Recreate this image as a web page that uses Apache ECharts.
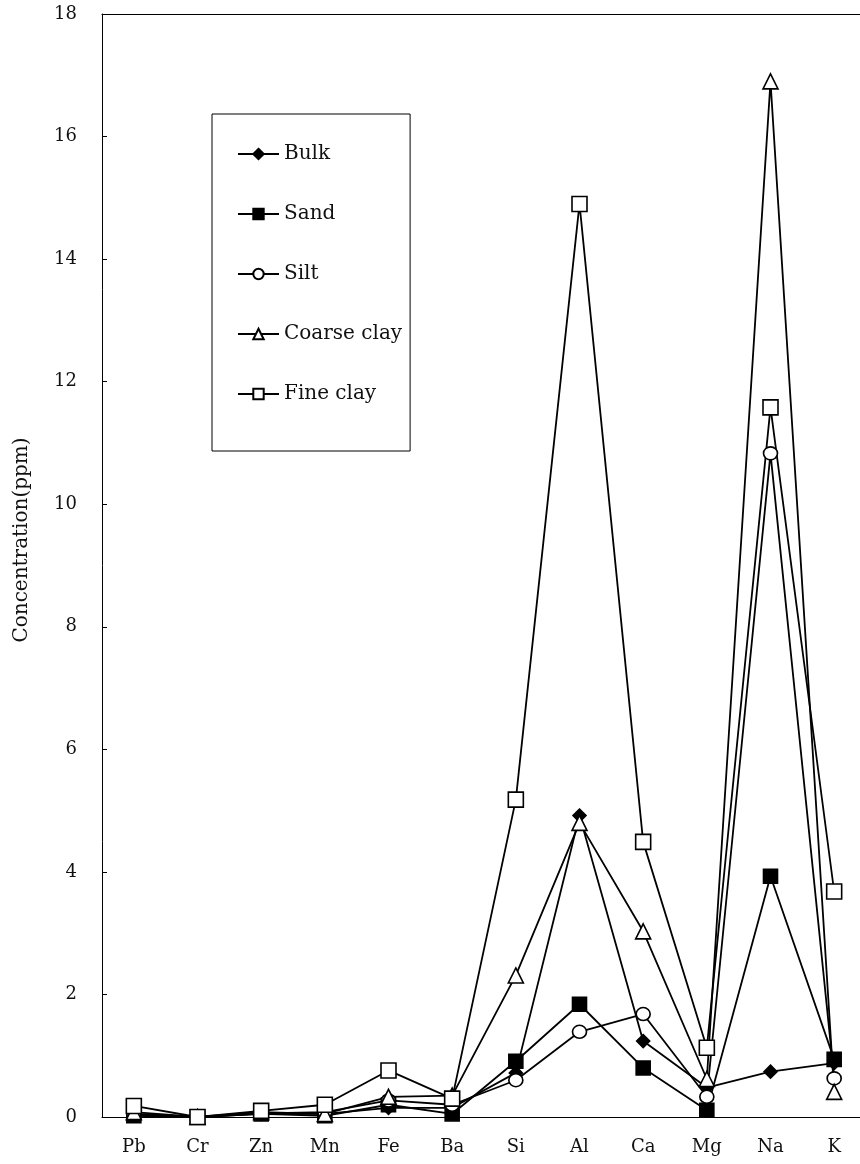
<!DOCTYPE html>
<html>
<head>
<meta charset="utf-8">
<script src="https://cdn.jsdelivr.net/npm/echarts@6/dist/echarts.min.js"></script>
<style>html,body{margin:0;padding:0;background:#fff;overflow:hidden}#c{width:866px;height:1164px}</style>
</head>
<body>
<div id="c"></div>
<script>
const categories = ['Pb','Cr','Zn','Mn','Fe','Ba','Si','Al','Ca','Mg','Na','K'];
const bulk       = [0.03, 0, 0.05, 0.05, 0.15, 0.15, 0.72, 4.92, 1.24, 0.48, 0.74, 0.88];
const sand       = [0.02, 0, 0.05, 0.02, 0.20, 0.05, 0.91, 1.84, 0.80, 0.11, 3.93, 0.94];
const silt       = [0.05, 0, 0.06, 0.08, 0.27, 0.20, 0.60, 1.39, 1.68, 0.33, 10.83, 0.63];
const coarseClay = [0.08, 0, 0.08, 0.05, 0.33, 0.35, 2.31, 4.80, 3.03, 0.62, 16.90, 0.41];
const fineClay   = [0.18, 0, 0.10, 0.20, 0.76, 0.30, 5.18, 14.90, 4.49, 1.13, 11.58, 3.68];
const yTicks = { min: 0, max: 18, interval: 2 };

const FONT = 'DejaVu Serif';
function mk(name, data, symbol, filled, size) {
  return {
    name, type: 'line', data, symbol, symbolSize: size,
    lineStyle: { color: '#000', width: 1.8 },
    itemStyle: { color: filled ? '#000' : '#fff', borderColor: '#000', borderWidth: 1.6 },
    emphasis: { disabled: true },
    animation: false
  };
}
const chart = echarts.init(document.getElementById('c'), null, { renderer: 'canvas' });
chart.setOption({
  backgroundColor: '#fff',
  animation: false,
  grid: { left: 102, top: 14, right: 0, bottom: 47, containLabel: false },
  xAxis: [{
    type: 'category', data: categories, boundaryGap: true,
    axisLine: { lineStyle: { color: '#000', width: 1 } },
    axisTick: { inside: true, length: 5, lineStyle: { color: '#000' } },
    axisLabel: { fontFamily: FONT, fontSize: 18, color: '#111', margin: 21 },
    splitLine: { show: false }
  }, {
    type: 'category', data: categories, position: 'top',
    axisLine: { show: true, lineStyle: { color: '#000', width: 1 } },
    axisTick: { show: false }, axisLabel: { show: false }, splitLine: { show: false }
  }],
  yAxis: {
    type: 'value', min: yTicks.min, max: yTicks.max, interval: yTicks.interval,
    axisLine: { show: true, lineStyle: { color: '#000', width: 1 } },
    axisTick: { show: true, inside: true, length: 5, lineStyle: { color: '#000' } },
    axisLabel: { fontFamily: FONT, fontSize: 18, color: '#111', margin: 25 },
    splitLine: { show: false }
  },
  legend: {
    orient: 'vertical', left: 212, top: 114,
    padding: [30, 8, 47, 25],
    itemWidth: 41, itemHeight: 13, itemGap: 40,
    backgroundColor: '#fff', borderColor: '#000', borderWidth: 1,
    textStyle: { fontFamily: FONT, fontSize: 20, color: '#111' },
    data: ['Bulk','Sand','Silt','Coarse clay','Fine clay']
  },
  graphic: [{
    type: 'text', x: 22, y: 540, rotation: Math.PI / 2,
    style: { text: 'Concentration(ppm)', font: '20px "DejaVu Serif"', fill: '#111', align: 'center', verticalAlign: 'middle' }
  }],
  series: [
    mk('Bulk', bulk, 'diamond', true, [13, 13]),
    mk('Sand', sand, 'rect', true, 14),
    mk('Silt', silt, 'circle', false, [14, 13]),
    mk('Coarse clay', coarseClay, 'triangle', false, 15),
    mk('Fine clay', fineClay, 'rect', false, 15)
  ]
});
</script>
</body>
</html>
